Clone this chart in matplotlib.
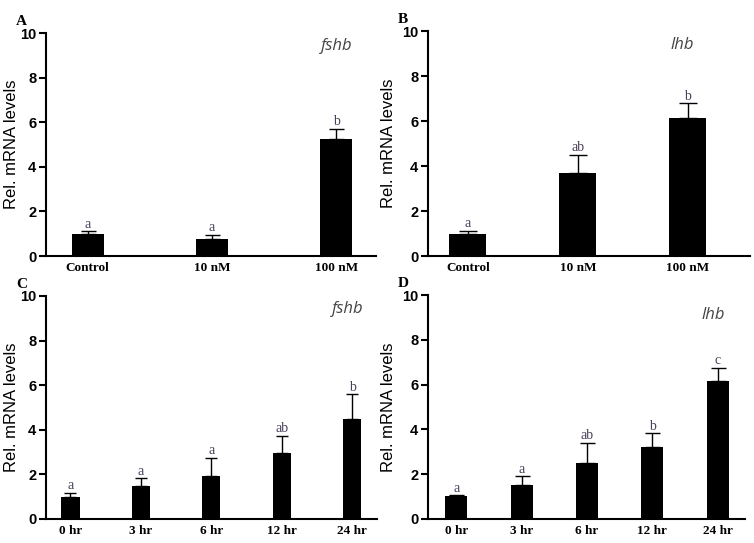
import matplotlib
matplotlib.use("Agg")
import matplotlib.pyplot as plt
import numpy as np

# panel A: fshb, dose
dose_labels = ["Control", "10 nM", "100 nM"]
a_mean = [1.0, 0.75, 5.24]
a_err = [0.12, 0.2, 0.46]
a_sig = ["a", "a", "b"]

# panel B: lhb, dose
b_mean = [1.0, 3.67, 6.15]
b_err = [0.12, 0.84, 0.65]
b_sig = ["a", "ab", "b"]

# panel C: fshb, time
time_labels = ["0 hr", "3 hr", "6 hr", "12 hr", "24 hr"]
c_mean = [1.0, 1.46, 1.94, 2.94, 4.47]
c_err = [0.18, 0.38, 0.8, 0.8, 1.13]
c_sig = ["a", "a", "a", "ab", "b"]

# panel D: lhb, time
d_mean = [1.03, 1.52, 2.51, 3.21, 6.16]
d_err = [0.04, 0.39, 0.89, 0.63, 0.6]
d_sig = ["a", "a", "ab", "b", "c"]

fig = plt.figure(figsize=(7.54, 5.43), dpi=100)

panels = [
    # rect, letter, gene, labels, means, errs, sig, xlim, barwidth, capsize, gene pos, labelpad
    ([0.061, 0.5285, 0.4377, 0.4107], "A", "fshb", dose_labels, a_mean, a_err, a_sig,
     (-0.334, 2.319), 0.257, 5.4, (0.88, 0.94), 0.5),
    ([0.5676, 0.5285, 0.427, 0.4144], "B", "lhb", dose_labels, b_mean, b_err, b_sig,
     (-0.363, 2.564), 0.336, 6.5, (0.79, 0.94), 4),
    ([0.061, 0.0442, 0.439, 0.4107], "C", "fshb", time_labels, c_mean, c_err, c_sig,
     (-0.348, 4.354), 0.256, 4.0, (0.91, 0.94), 0.5),
    ([0.5676, 0.0442, 0.4204, 0.4125], "D", "lhb", time_labels, d_mean, d_err, d_sig,
     (-0.437, 4.42), 0.337, 5.4, (0.9, 0.91), 4),
]

for rect, letter, gene, labels, means, errs, sig, xlim, bw, cs, gpos, lp in panels:
    ax = fig.add_axes(rect)
    x = np.arange(len(means))
    ax.bar(x, means, width=bw, color="black", zorder=2)
    ax.errorbar(x, means, yerr=[np.zeros(len(errs)), errs], fmt="none",
                ecolor="black", elinewidth=1.0, capsize=cs, capthick=1.0, zorder=1)
    for xi, m, e, s in zip(x, means, errs, sig):
        ax.text(xi, m + e + 0.02, s, ha="center", va="bottom", fontsize=10,
                family="Liberation Serif", color="#4a3f5a")
    ax.set_xlim(*xlim)
    ax.set_ylim(0, 10)
    ax.set_yticks([0, 2, 4, 6, 8, 10])
    ax.set_xticks(x)
    ax.set_xticklabels(labels, fontsize=9.5, fontweight="bold", family="Liberation Serif")
    for lab in ax.get_yticklabels():
        lab.set_fontweight("bold")
        lab.set_family("Liberation Sans")
        lab.set_fontsize(10.5)
    ax.tick_params(axis="x", length=0, pad=4)
    ax.tick_params(axis="y", length=5, width=1.5, pad=2)
    for sp in ["top", "right"]:
        ax.spines[sp].set_visible(False)
    for sp in ["left", "bottom"]:
        ax.spines[sp].set_linewidth(1.5)
    ax.set_ylabel("Rel. mRNA levels", fontsize=12, family="Liberation Sans", labelpad=lp)
    ax.text(gpos[0], gpos[1], gene, transform=ax.transAxes, ha="center", va="center",
            fontsize=12, style="italic", family="Open Sans", color="#444444")
    fig.text(rect[0] - 0.04, rect[1] + rect[3] + 0.01, letter, fontsize=11,
             fontweight="bold", family="Liberation Serif", ha="left", va="bottom")

fig.savefig("out.png", dpi=100)
